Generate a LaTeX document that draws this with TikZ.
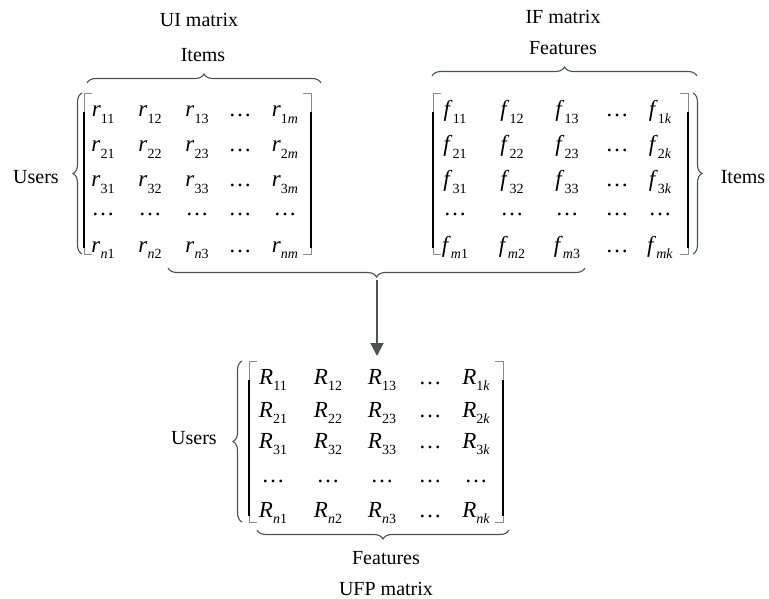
\documentclass[tikz,border=0pt]{standalone}
\usepackage{fontspec}
\setmainfont{Liberation Serif}
\usetikzlibrary{decorations.pathreplacing,arrows.meta}
\newcommand{\ent}[2]{\textit{#1}\raisebox{-0.3em}{\fontsize{14}{14}\selectfont #2}}
\definecolor{bracegray}{HTML}{4A5454}
\definecolor{thingray}{HTML}{8A8A8A}
\begin{document}
\begin{tikzpicture}[x=1pt,y=-1pt,
  lbl/.style={font=\fontsize{20}{23}\selectfont, inner sep=0pt},
  entry/.style={font=\fontsize{23}{26}\selectfont, inner sep=0pt, anchor=base},
  brk/.style={line width=0.8pt, draw=thingray},
  brkthick/.style={line width=2.2pt, draw=black},
  brc/.style={decorate, decoration={brace, amplitude=9pt}, line width=1.1pt, draw=bracegray},
  arr/.style={-{Triangle[length=13pt,width=13pt]}, line width=2pt, draw=bracegray, fill=bracegray}]
\useasboundingbox (0,0) rectangle (769,599);

% ---------- UI matrix ----------
\foreach \i/\y/\s in {1/117/1, 2/152/2, 3/187/3, 5/252/{\textit{n}}} {
  \node[entry] (ui-\i-1) at (103,\y) {\ent{r}{\s1}};
  \node[entry] (ui-\i-2) at (150,\y) {\ent{r}{\s2}};
  \node[entry] (ui-\i-3) at (197,\y) {\ent{r}{\s3}};
  \node[entry] (ui-\i-4) at (240,\y) {\textellipsis};
  \node[entry] (ui-\i-5) at (285,\y) {\ent{r}{\s\textit{m}}};
}
\foreach \j/\x in {1/103,2/150,3/197,4/240,5/285}
  \node[entry] (ui-4-\j) at (\x,215) {\textellipsis};
\draw[brk] (92,93) -- (84,93) -- (84,254) -- (92,254);
\draw[brkthick] (84,112) -- (84,248);
\draw[brk] (303,93) -- (311,93) -- (311,254) -- (303,254);
\draw[brkthick] (311,112) -- (311,248);
\coordinate (uiL1) at (82,254); \coordinate (uiL2) at (82,93);
\draw[brc] (uiL1) -- (uiL2);
\coordinate (uiT1) at (87,83); \coordinate (uiT2) at (321,83);
\draw[brc] (uiT1) -- (uiT2);
\node[lbl] (uiusers) at (36,177) {Users};
\node[lbl] (uiitems) at (203,55) {Items};
\node[lbl] (uiname) at (199,20) {UI matrix};

% ---------- IF matrix ----------
\foreach \i/\y/\s in {1/117/1, 2/152/2, 3/187/3, 5/252/{\textit{m}}} {
  \node[entry] (if-\i-1) at (455,\y) {\ent{f}{\s1}};
  \node[entry] (if-\i-2) at (512,\y) {\ent{f}{\s2}};
  \node[entry] (if-\i-3) at (567,\y) {\ent{f}{\s3}};
  \node[entry] (if-\i-4) at (617,\y) {\textellipsis};
  \node[entry] (if-\i-5) at (660,\y) {\ent{f}{\s\textit{k}}};
}
\foreach \j/\x in {1/455,2/512,3/567,4/617,5/660}
  \node[entry] (if-4-\j) at (\x,215) {\textellipsis};
\draw[brk] (441,93) -- (433,93) -- (433,254) -- (441,254);
\draw[brkthick] (433,112) -- (433,248);
\draw[brk] (680,93) -- (688,93) -- (688,254) -- (680,254);
\draw[brkthick] (688,112) -- (688,248);
\coordinate (ifR1) at (693,93); \coordinate (ifR2) at (693,254);
\draw[brc] (ifR1) -- (ifR2);
\coordinate (ifT1) at (432,76); \coordinate (ifT2) at (697,76);
\draw[brc] (ifT1) -- (ifT2);
\node[lbl] (ifitems) at (743,177) {Items};
\node[lbl] (iffeat) at (563,48) {Features};
\node[lbl] (ifname) at (563,17) {IF matrix};

% ---------- middle brace and arrow ----------
\coordinate (mid1) at (585,268); \coordinate (mid2) at (168,268);
\draw[brc] (mid1) -- (mid2);
\coordinate (mtip) at (377,280);
\coordinate (ufptop) at (377,356);
\draw[arr] (mtip) -- (ufptop);

% ---------- UFP matrix ----------
\foreach \i/\y/\s in {1/384/1, 2/417/2, 3/448/3, 5/517/{\textit{n}}} {
  \node[entry] (uf-\i-1) at (273,\y) {\ent{R}{\s1}};
  \node[entry] (uf-\i-2) at (328,\y) {\ent{R}{\s2}};
  \node[entry] (uf-\i-3) at (382,\y) {\ent{R}{\s3}};
  \node[entry] (uf-\i-4) at (430,\y) {\textellipsis};
  \node[entry] (uf-\i-5) at (476,\y) {\ent{R}{\s\textit{k}}};
}
\foreach \j/\x in {1/273,2/328,3/382,4/430,5/476}
  \node[entry] (uf-4-\j) at (\x,482) {\textellipsis};
\draw[brk] (257,361) -- (249,361) -- (249,522) -- (257,522);
\draw[brkthick] (249,380) -- (249,516);
\draw[brk] (495,361) -- (503,361) -- (503,522) -- (495,522);
\draw[brkthick] (503,380) -- (503,516);
\coordinate (ufL1) at (242,522); \coordinate (ufL2) at (242,361);
\draw[brc] (ufL1) -- (ufL2);
\coordinate (ufB1) at (509,530); \coordinate (ufB2) at (257,530);
\draw[brc] (ufB1) -- (ufB2);
\node[lbl] (ufusers) at (194,438) {Users};
\node[lbl] (uffeat) at (386,558) {Features};
\node[lbl, anchor=base] (ufname) at (386,595) {UFP matrix};
\end{tikzpicture}
\end{document}
